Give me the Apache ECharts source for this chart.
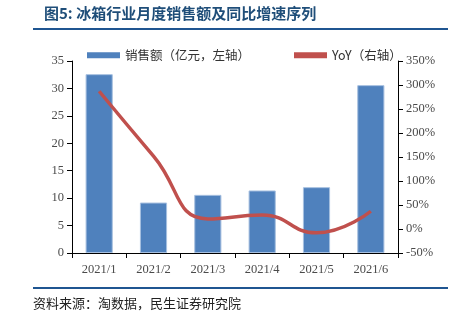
<!DOCTYPE html>
<html><head><meta charset="utf-8">
<script src="https://cdn.jsdelivr.net/npm/echarts@6/dist/echarts.min.js"></script>
<style>html,body{margin:0;padding:0;background:#fff}#c{width:458px;height:324px}</style>
</head><body><div id="c"></div>
<script>
const categories = ['2021/1','2021/2','2021/3','2021/4','2021/5','2021/6'];
const sales = [32.6, 9.2, 10.6, 11.4, 12.0, 30.6];
const yoy = [287, 152, 21, 29, -8, 37];
const leftTicks = [0, 35, 5];
const rightTicks = [-50, 350, 50];

const chart = echarts.init(document.getElementById('c'));
const tickFont = {fontFamily:'"Liberation Serif", "Times New Roman", serif', fontSize:12.5, color:'#4a4a4a'};
chart.setOption({
  animation:false,
  graphic:[
    {type:'text', left:44, top:6, style:{text:'图5: 冰箱行业月度销售额及同比增速序列', font:'bold 15px "Noto Sans CJK SC"', fill:'#1F4E79'}},
    {type:'rect', shape:{x:33,y:28,width:415,height:2}, style:{fill:'#1F5591'}},
    {type:'rect', shape:{x:33,y:287,width:415,height:2}, style:{fill:'#1F5591'}},
    {type:'text', left:33, top:297, style:{text:'资料来源：淘数据，民生证券研究院', font:'13px "Noto Sans CJK SC"', fill:'#222'}}
  ],
  legend:{
    top:44, left:82, itemGap:44, itemWidth:33, itemHeight:6,
    textStyle:{fontFamily:'Noto Sans CJK SC', fontSize:12.5, color:'#333'},
    data:[{name:'销售额（亿元，左轴）', icon:'rect', itemStyle:{borderWidth:0}}, {name:'YoY（右轴）', icon:'rect'}]
  },
  grid:{left:72, right:60, top:61, bottom:71},
  xAxis:{
    type:'category', data:categories,
    axisLine:{lineStyle:{color:'#000'}},
    axisTick:{show:true, alignWithLabel:false, length:5, lineStyle:{color:'#000'}},
    axisLabel:Object.assign({margin:10}, tickFont)
  },
  yAxis:[
    {type:'value', min:leftTicks[0], max:leftTicks[1], interval:leftTicks[2],
     axisLine:{show:true, lineStyle:{color:'#000'}},
     axisTick:{show:true, length:5, lineStyle:{color:'#000'}},
     splitLine:{show:false},
     axisLabel:Object.assign({margin:8}, tickFont)},
    {type:'value', min:rightTicks[0], max:rightTicks[1], interval:rightTicks[2],
     axisLine:{show:true, lineStyle:{color:'#000'}},
     axisTick:{show:true, length:5, lineStyle:{color:'#000'}},
     splitLine:{show:false},
     axisLabel:Object.assign({margin:8, formatter:'{value}%'}, tickFont)}
  ],
  series:[
    {name:'销售额（亿元，左轴）', type:'bar', data:sales, barWidth:'50%',
     itemStyle:{color:'#4F81BD', borderColor:'#A7C0E0', borderWidth:1}},
    {name:'YoY（右轴）', type:'line', yAxisIndex:1, data:yoy, smooth:0.5, symbol:'none',
     lineStyle:{color:'#C0504D', width:3.5}, itemStyle:{color:'#C0504D'}}
  ]
});
</script></body></html>
